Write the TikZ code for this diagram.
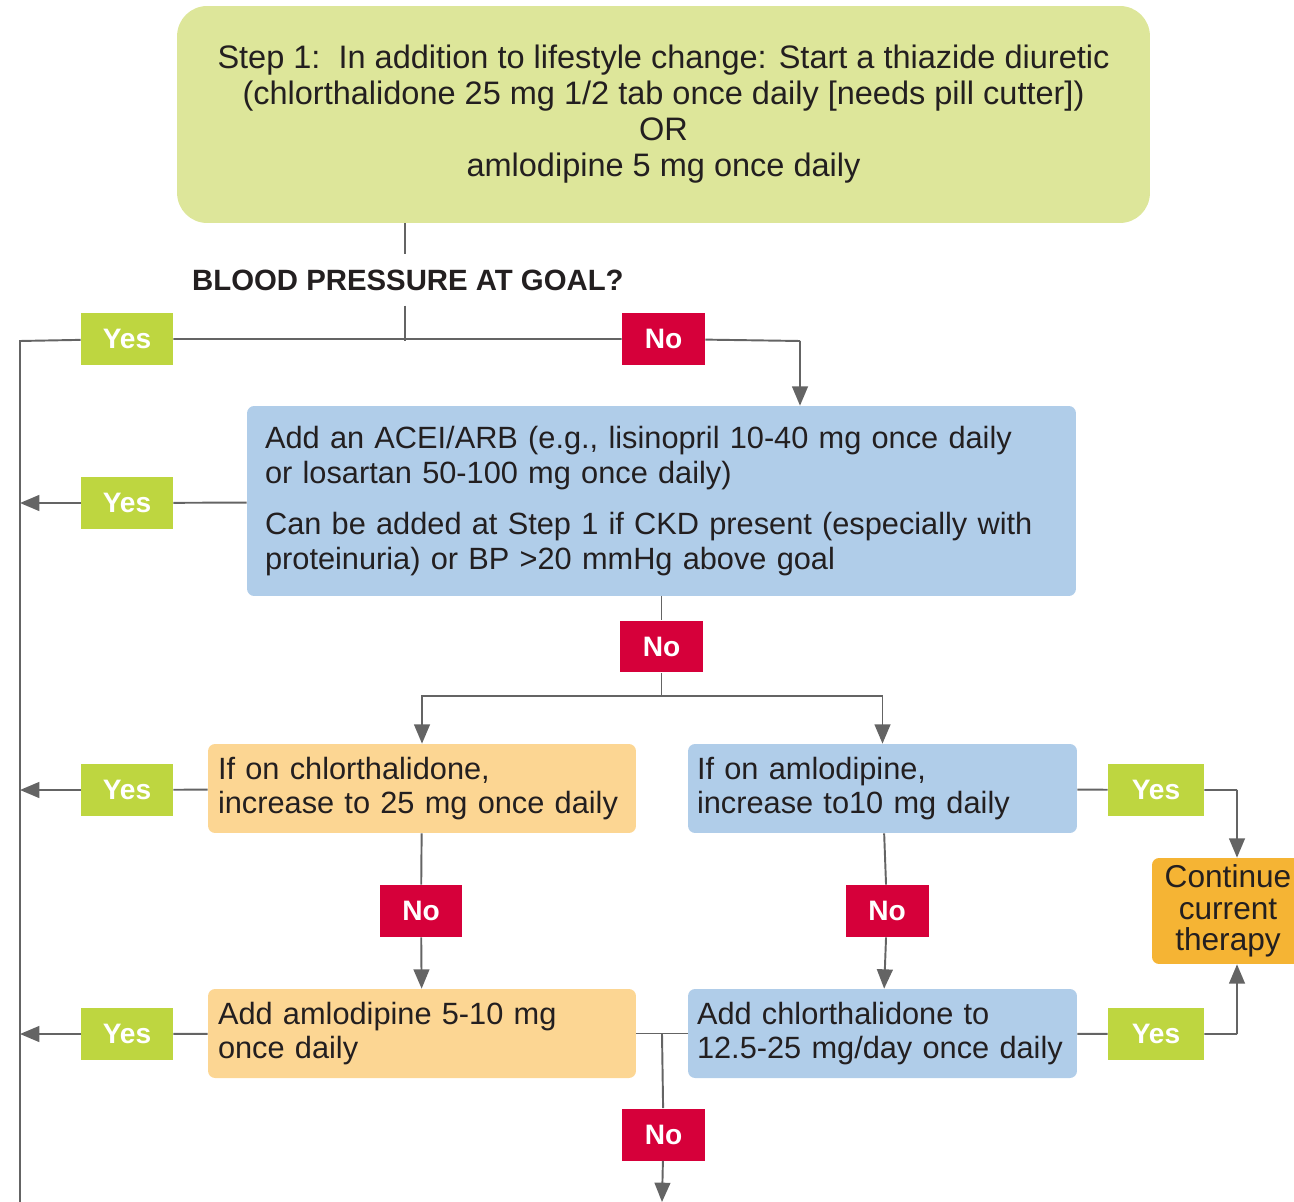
\documentclass[tikz,border=0pt]{standalone}
\usepackage{fontspec}
\setmainfont{Liberation Sans}
\usetikzlibrary{arrows.meta}

\definecolor{stepgreen}{RGB}{221,230,154}
\definecolor{yesgreen}{RGB}{190,214,64}
\definecolor{nored}{RGB}{214,0,58}
\definecolor{boxblue}{RGB}{176,205,233}
\definecolor{boxorange}{RGB}{252,214,147}
\definecolor{contorange}{RGB}{245,180,52}
\definecolor{linegray}{RGB}{100,100,100}
\definecolor{txt}{RGB}{35,31,32}

\begin{document}
\begin{tikzpicture}[x=0.02cm,y=-0.02cm,
	box/.style={rounded corners=4pt, inner xsep=0.2cm, inner ysep=0pt, minimum height=1.78cm,
		text=txt, align=left, font=\fontsize{17.5}{19}\selectfont},
	bluebox/.style={box, fill=boxblue, text width=7.42cm, inner xsep=0.18cm},
	orangebox/.style={box, fill=boxorange, text width=8.16cm},
	tag/.style={minimum height=1.04cm, inner sep=0pt, text=white, font=\fontsize{16}{16}\bfseries\selectfont},
	yesbox/.style={tag, fill=yesgreen, minimum width=1.84cm},
	nobox/.style={tag, fill=nored, minimum width=1.66cm},
	conn/.style={draw=linegray, line width=1.1pt},
	arr/.style={conn, -{Triangle[width=9pt,length=11pt]}}
]
\useasboundingbox (0,0) rectangle (1294,1202);

\node[rounded corners=0.6cm, fill=stepgreen, minimum width=19.46cm, minimum height=4.34cm,
	align=center, text=txt, font=\fontsize{18.5}{20.5}\selectfont] (step1) at (663.5,114.5)
	{Step 1:\ \ In addition to lifestyle change: Start a thiazide diuretic\\
	(chlorthalidone 25 mg 1/2 tab once daily [needs pill cutter])\\
	OR\\
	amlodipine 5 mg once daily};

\node[anchor=west, inner ysep=0.3cm, text=txt, font=\fontsize{16.7}{18}\bfseries\selectfont] (goal) at (186,280) {BLOOD PRESSURE AT GOAL?};

\node[yesbox] (yes1) at (127,339) {Yes};
\node[nobox] (no1) at (663.5,339) {No};

\node[box, fill=boxblue, minimum height=3.8cm, text width=15.86cm, inner xsep=0.36cm,
	font=\fontsize{17.5}{20}\selectfont] (acei) at (661.5,501)
	{Add an ACEI/ARB (e.g., lisinopril 10-40 mg once daily\\
	or losartan 50-100 mg once daily)\\[0.3cm]
	Can be added at Step 1 if CKD present (especially with\\
	proteinuria) or BP >20 mmHg above goal};
\node[yesbox] (yes2) at (127,503) {Yes};
\node[nobox] (no2) at (661.5,646.5) {No};

\node[orangebox] (chlor) at (422,788.5) {If on chlorthalidone,\\increase to 25 mg once daily};
\node[bluebox] (amlo) at (882.5,788.5) {If on amlodipine,\\increase to10 mg daily};
\node[yesbox] (yes3) at (127,790) {Yes};
\node[yesbox, minimum width=1.92cm] (yes4) at (1156,790) {Yes};

\node[rounded corners=4pt, fill=contorange, minimum width=3.04cm, minimum height=2.12cm, align=center,
	text=txt, font=\fontsize{18}{18}\selectfont] (cont) at (1228,911) {Continue\\current\\therapy};

\node[nobox] (no3) at (421,911) {No};
\node[nobox] (no4) at (887,911) {No};

\node[orangebox] (addamlo) at (422,1033.5) {Add amlodipine 5-10 mg\\once daily};
\node[bluebox] (addchlor) at (882.5,1033.5) {Add chlorthalidone to\\12.5-25 mg/day once daily};
\node[yesbox] (yes5) at (127,1034) {Yes};
\node[yesbox, minimum width=1.92cm] (yes6) at (1156,1034) {Yes};
\node[nobox] (no5) at (663.5,1134.5) {No};

\coordinate (j1) at (405,341);
\coordinate (lt) at (20,341);
\coordinate (lb) at (20,1202);
\coordinate (c1) at (800,341);
\coordinate (j2) at (661.5,696);
\coordinate (j3) at (662,1034);
\coordinate (out) at (662,1202);
\coordinate (r1) at (1237,790);
\coordinate (r2) at (1237,1034);

\draw[conn] (j1 |- step1.south) -- (j1 |- goal.north);
\draw[conn] (j1 |- goal.south) -- (j1);
\draw[conn] (lb) -- (lt) -- (yes1) -- (no1) -- (c1);
\draw[arr] (c1) -- (c1 |- acei.north);

\draw[conn] (acei) -- (yes2);
\draw[arr] (yes2) -- (yes2 -| lt);
\draw[conn] (acei) -- (no2) -- (j2);
\draw[arr] (j2) -| (chlor.north);
\draw[arr] (j2) -| (amlo.north);

\draw[conn] (chlor) -- (yes3);
\draw[arr] (yes3) -- (yes3 -| lt);
\draw[conn] (amlo) -- (yes4) -- (r1);
\draw[arr] (r1) -- (r1 |- cont.north);

\draw[conn] (chlor) -- (no3);
\draw[arr] (no3) -- (addamlo);
\draw[conn] (amlo) -- (no4);
\draw[arr] (no4) -- (addchlor);

\draw[conn] (addamlo) -- (yes5);
\draw[arr] (yes5) -- (yes5 -| lt);
\draw[conn] (addchlor) -- (yes6) -- (r2);
\draw[arr] (r2) -- (r2 |- cont.south);

\draw[conn] (addamlo) -- (addchlor);
\draw[conn] (j3) -- (no5);
\draw[arr] (no5) -- (out);

\end{tikzpicture}
\end{document}
